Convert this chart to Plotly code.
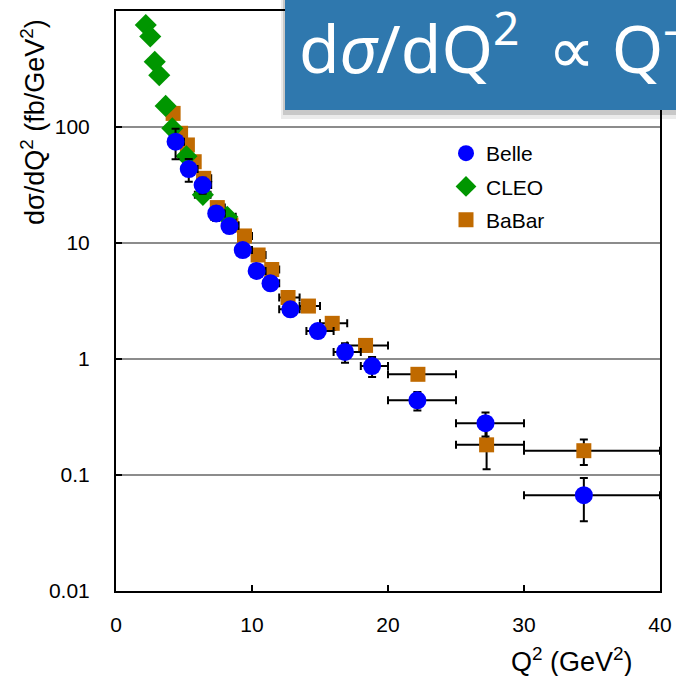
import plotly.graph_objects as go

# ---------------- data ----------------
belle_q2 = [4.38, 5.35, 6.37, 7.37, 8.34, 9.32, 10.34, 11.36, 12.82, 14.84, 16.84, 18.83, 22.16, 27.17, 34.40]
belle_val = [74.7, 43.4, 31.6, 18.0, 14.0, 8.7, 5.74, 4.49, 2.68, 1.74, 1.15, 0.87, 0.44, 0.28, 0.067]
belle_err = [22, 9.7, 5.0, 2.5, 1.8, 1.0, 0.6, 0.45, 0.3, 0.2, 0.22, 0.17, 0.08, 0.065, 0.027]
belle_lo = [4, 5, 6, 7, 8, 9, 10, 11, 12, 14, 16, 18, 20, 25, 30]
belle_hi = [5, 6, 7, 8, 9, 10, 11, 12, 13.5, 16, 18, 20, 25, 30, 40]

cleo_q2 = [2.19, 2.52, 2.85, 3.18, 3.65, 4.14, 5.18, 6.39, 8.18]
cleo_val = [757, 603, 365, 280, 152, 97.4, 56, 26, 16.8]
cleo_lo = [2.05, 2.40, 2.70, 3.05, 3.50, 4.00, 4.80, 5.80, 7.00]
cleo_hi = [2.35, 2.65, 3.00, 3.35, 3.80, 4.30, 5.55, 6.95, 8.80]

babar_q2 = [4.20, 4.75, 5.25, 5.75, 6.45, 7.45, 8.45, 9.45, 10.45, 11.45, 12.65, 14.15, 15.90, 18.35, 22.20, 27.25, 34.40]
babar_val = [131, 88.3, 70, 50.2, 36.1, 20.2, 14.3, 11.5, 7.88, 5.91, 3.39, 2.86, 2.03, 1.31, 0.738, 0.182, 0.162]
babar_err = [8, 5, 4, 3, 2, 1.2, 1.0, 0.8, 0.6, 0.5, 0.35, 0.3, 0.25, 0.15, 0.08, 0.07, 0.04]
babar_lo = [4, 4.5, 5, 5.5, 6, 7, 8, 9, 10, 11, 12, 13.5, 15, 17, 20, 25, 30]
babar_hi = [4.5, 5, 5.5, 6, 7, 8, 9, 10, 11, 12, 13.5, 15, 17, 20, 25, 30, 40]

y_tickvals = [0.01, 0.1, 1, 10, 100]
y_ticktext = ["0.01", "0.1", "1", "10", "100"]
x_tickvals = [0, 10, 20, 30, 40]

# ---------------- figure ----------------
W, H = 676, 676
ML, MR, MT, MB = 116, 16, 11, 85
PW, PH = W - ML - MR, H - MT - MB


def px(x):
    return (x - ML) / PW


def py(y):
    return (H - MB - y) / PH


def plus(c, lo, hi):
    return [h - v for v, h in zip(c, hi)]


def minus(c, lo, hi):
    return [v - l for v, l in zip(c, lo)]


EB = dict(color="black", thickness=2, width=4)

fig = go.Figure()

fig.add_trace(go.Scatter(
    x=babar_q2, y=babar_val, mode="markers", name="BaBar",
    legendgroup="babar", legendrank=3,
    marker=dict(symbol="square", size=15, color="#C06A00"),
    error_y=dict(type="data", array=babar_err, **EB),
    error_x=dict(type="data", symmetric=False,
                 array=plus(babar_q2, babar_lo, babar_hi),
                 arrayminus=minus(babar_q2, babar_lo, babar_hi), **EB),
))

fig.add_trace(go.Scatter(
    x=cleo_q2, y=cleo_val, mode="markers", name="CLEO",
    legendgroup="cleo", legendrank=2,
    marker=dict(symbol="diamond", size=17, color="#009600"),
    error_x=dict(type="data", symmetric=False,
                 array=plus(cleo_q2, cleo_lo, cleo_hi),
                 arrayminus=minus(cleo_q2, cleo_lo, cleo_hi), **EB),
))

fig.add_trace(go.Scatter(
    x=belle_q2, y=belle_val, mode="markers", name="Belle",
    legendgroup="belle", legendrank=1,
    marker=dict(symbol="circle", size=18, color="#0000FF"),
    error_y=dict(type="data", array=belle_err, **EB),
    error_x=dict(type="data", symmetric=False,
                 array=plus(belle_q2, belle_lo, belle_hi),
                 arrayminus=minus(belle_q2, belle_lo, belle_hi), **EB),
))

FONT = "Arial"

fig.update_layout(
    width=W, height=H,
    margin=dict(l=ML, r=MR, t=MT, b=MB, pad=0, autoexpand=False),
    paper_bgcolor="white", plot_bgcolor="white",
    font=dict(family=FONT, size=21, color="black"),
    showlegend=True,
    legend=dict(x=px(446), y=py(133), xanchor="left", yanchor="top",
                font=dict(family=FONT, size=21, color="black"),
                bgcolor="rgba(0,0,0,0)", traceorder="grouped",
                tracegroupgap=3, itemwidth=30),
    xaxis=dict(range=[0, 40], tickvals=x_tickvals, ticks="inside", ticklen=6,
               tickwidth=1.5, tickcolor="black", showline=True, linecolor="black",
               linewidth=2, mirror=True, showgrid=False, zeroline=False,
               tickfont=dict(family=FONT, size=21), ticklabelstandoff=14,
               ticklabeloverflow="allow", automargin=False),
    yaxis=dict(type="log", range=[-2, 3], tickvals=y_tickvals, ticktext=y_ticktext,
               ticks="inside", ticklen=6, tickwidth=1.5, tickcolor="black",
               showline=True, linecolor="black", linewidth=2, mirror=True,
               showgrid=True, gridcolor="#8c8c8c", gridwidth=2, zeroline=False,
               tickfont=dict(family=FONT, size=21), ticklabelstandoff=20,
               automargin=False),
)

# title box with shadow
fig.add_shape(type="rect", xref="paper", yref="paper", layer="above",
              x0=px(281), x1=px(700), y0=py(119), y1=py(-20),
              fillcolor="rgba(0,0,0,0.08)", line=dict(width=0))
fig.add_shape(type="rect", xref="paper", yref="paper", layer="above",
              x0=px(283), x1=px(700), y0=py(115), y1=py(-20),
              fillcolor="rgba(0,0,0,0.15)", line=dict(width=0))
fig.add_shape(type="rect", xref="paper", yref="paper", layer="above",
              x0=px(285), x1=px(700), y0=py(110), y1=py(-20),
              fillcolor="#2F78AE", line=dict(width=0))

fig.add_annotation(xref="paper", yref="paper", x=px(297), y=py(44),
                   xanchor="left", yanchor="middle", showarrow=False,
                   text="d<i>σ</i>/dQ<sup>2</sup>\u2009 ∝ Q<sup>-</sup>",
                   font=dict(family="Noto Sans", size=66, color="white"))

# axis titles
fig.add_annotation(xref="paper", yref="paper", x=px(33), y=py(122),
                   xanchor="center", yanchor="middle", showarrow=False, textangle=-90,
                   text="dσ/dQ<sup>2</sup> (fb/GeV<sup>2</sup>)",
                   font=dict(family=FONT, size=27, color="black"))
fig.add_annotation(xref="paper", yref="paper", x=px(572), y=py(660),
                   xanchor="center", yanchor="middle", showarrow=False,
                   text="Q<sup>2</sup> (GeV<sup>2</sup>)",
                   font=dict(family=FONT, size=27, color="black"))

fig.write_html("out.html")
